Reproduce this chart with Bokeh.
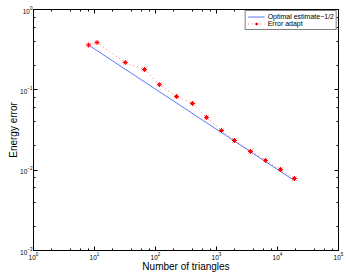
from bokeh.plotting import figure
from bokeh.models import LogAxis, Range1d, LogTicker, CustomJSTickFormatter
from bokeh.embed import file_html
from bokeh.resources import INLINE

# data
n_triangles = [8, 11, 32, 66, 116, 221, 404, 686, 1208, 1973, 3607, 6357, 11200, 19000]
err_adapt = [0.361, 0.388, 0.219, 0.179, 0.116, 0.0826, 0.0676, 0.0453, 0.0312,
             0.0234, 0.0171, 0.0132, 0.0102, 0.00787]
optimal_x = [8, 19000]
optimal_y = [0.361, 0.0074]

FONT = "Liberation Sans"

p = figure(width=346, height=276, x_axis_type="log", y_axis_type="log",
           x_range=Range1d(1, 1e5), y_range=Range1d(1e-3, 1),
           output_backend="svg", toolbar_location=None,
           min_border_left=33, min_border_right=8, min_border_top=9, min_border_bottom=26)
p.grid.visible = False
p.outline_line_color = "black"
p.background_fill_color = "white"
p.border_fill_color = "white"
p.title.visible = False

p.line(optimal_x, optimal_y, color="#5b78ff", line_width=1,
       legend_label="Optimal estimate\u22121/2")
p.line(n_triangles, err_adapt, color="#ff3030", line_width=1, line_dash="1 3",
       line_alpha=0.7, legend_label="Error adapt")
p.scatter(n_triangles, err_adapt, marker="asterisk", size=5, line_color="red",
          line_width=1, legend_label="Error adapt")


def style_axis(ax, show_labels=True):
    ax.axis_line_color = "black"
    ax.major_tick_in = 4
    ax.major_tick_out = 0
    ax.minor_tick_in = 2
    ax.minor_tick_out = 0
    ax.major_tick_line_color = "black"
    ax.minor_tick_line_color = "black"
    ax.major_label_text_font = FONT
    ax.major_label_text_color = "black"
    ax.major_label_text_font_size = "6.5px" if show_labels else "1px"
    if not show_labels:
        ax.major_label_text_alpha = 0
        ax.formatter = CustomJSTickFormatter(code="return ''")
        ax.axis_label = None
        ax.axis_label_standoff = 0
    else:
        ax.axis_label_standoff = -2
    ax.major_label_standoff = 1
    ax.axis_label_text_font = FONT
    ax.axis_label_text_color = "black"
    ax.axis_label_text_font_style = "normal"
    ax.axis_label_text_font_size = "10px"


style_axis(p.xaxis[0])
style_axis(p.yaxis[0])
p.xaxis[0].axis_label = "Number of triangles"
p.yaxis[0].axis_label = "Energy error"
p.xaxis[0].ticker = LogTicker(desired_num_ticks=6)
p.yaxis[0].ticker = LogTicker(desired_num_ticks=4)

top = LogAxis(ticker=LogTicker(desired_num_ticks=6))
right = LogAxis(ticker=LogTicker(desired_num_ticks=4))
style_axis(top, False)
style_axis(right, False)
top.major_label_standoff = 0
right.major_label_standoff = 0
p.add_layout(top, "above")
p.add_layout(right, "right")

lg = p.legend[0]
lg.location = "top_right"
lg.margin = 1
lg.padding = 2
lg.spacing = 0
lg.label_text_font = FONT
lg.label_text_color = "black"
lg.label_text_font_size = "7px"
lg.label_height = 7
lg.glyph_height = 7
lg.glyph_width = 17
lg.label_standoff = 3
lg.border_line_color = "black"
lg.border_line_width = 1
lg.background_fill_alpha = 1

open("out.html", "w").write(file_html(p, INLINE))
